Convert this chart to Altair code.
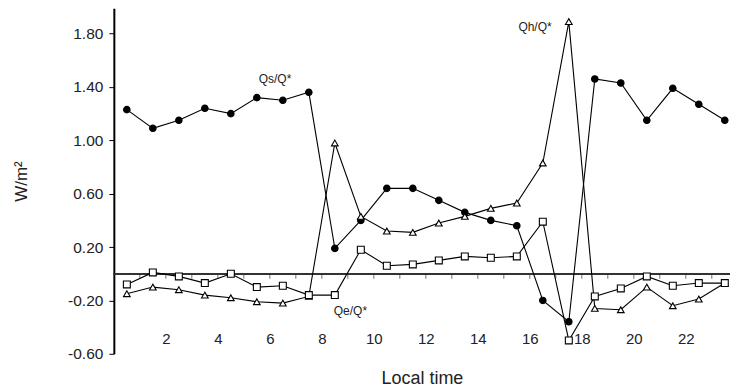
import altair as alt
import pandas as pd

# Local time (hour) of each observation
hours = [0.5, 1.5, 2.5, 3.5, 4.5, 5.5, 6.5, 7.5, 8.5, 9.5, 10.5, 11.5,
         12.5, 13.5, 14.5, 15.5, 16.5, 17.5, 18.5, 19.5, 20.5, 21.5, 22.5, 23.5]

# Qs/Q* (filled circles)
qs = [1.23, 1.09, 1.15, 1.24, 1.20, 1.32, 1.30, 1.36, 0.19, 0.40, 0.64, 0.64,
      0.55, 0.46, 0.40, 0.36, -0.20, -0.36, 1.46, 1.43, 1.15, 1.39, 1.27, 1.15]
# Qh/Q* (open triangles)
qh = [-0.15, -0.10, -0.12, -0.16, -0.18, -0.21, -0.22, -0.17, 0.98, 0.43, 0.32, 0.31,
      0.38, 0.43, 0.49, 0.53, 0.83, 1.89, -0.26, -0.27, -0.10, -0.24, -0.19, -0.07]
# Qe/Q* (open squares)
qe = [-0.08, 0.01, -0.02, -0.07, 0.00, -0.10, -0.09, -0.16, -0.16, 0.18, 0.06, 0.07,
      0.10, 0.13, 0.12, 0.13, 0.39, -0.50, -0.17, -0.11, -0.02, -0.09, -0.07, -0.07]

series_names = ["Qs", "Qh", "Qe"]
series_shapes = ["circle", "triangle-up", "square"]
series_fills = ["black", "white", "white"]
series_sizes = [42, 48, 44]

x_labels = [2, 4, 6, 8, 10, 12, 14, 16, 18, 20, 22]
y_ticks = [-0.6, -0.2, 0.2, 0.6, 1.0, 1.4, 1.8]
zero_ticks = [1, 2, 3, 4, 5, 6, 7, 8, 9, 10, 11, 12, 13, 14, 15, 16, 17, 18, 19, 20, 21, 22, 23]

ann_labels = ["Qs/Q*", "Qh/Q*", "Qe/Q*"]
ann_hours = [6.2, 16.2, 9.1]
ann_values = [1.46, 1.85, -0.28]

rows = []
for name, vals in zip(series_names, [qs, qh, qe]):
    for h, v in zip(hours, vals):
        rows.append({"series": name, "hour": h, "value": v})
df = pd.DataFrame(rows)
ticks_df = pd.DataFrame({"hour": zero_ticks, "value": [0] * len(zero_ticks)})
ann_df = pd.DataFrame({"label": ann_labels, "hour": ann_hours, "value": ann_values})

FONT = "Liberation Sans"

X = alt.X("hour:Q",
          scale=alt.Scale(domain=[0, 23.7], nice=False, zero=False),
          axis=alt.Axis(values=x_labels, title="Local time", domain=False, ticks=False,
                        grid=False, offset=-22, labelPadding=0, labelFontSize=15,
                        labelColor="#222222", titleColor="#222222",
                        titleFontSize=18, titleFontWeight="normal", titlePadding=23,
                        labelFont=FONT, titleFont=FONT))
Y = alt.Y("value:Q",
          scale=alt.Scale(domain=[-0.6, 1.99], nice=False, zero=False),
          axis=alt.Axis(values=y_ticks,
                        labelExpr="(datum.value < 0 ? '-' : '') + format(abs(datum.value), '.2f')",
                        title="W/m²", grid=False, domainColor="black", domainWidth=2,
                        tickColor="black", tickSize=5, labelPadding=6, labelFontSize=15.5,
                        labelColor="#222222", titleColor="#222222",
                        titleFontSize=17, titleFontWeight="normal", titlePadding=37,
                        labelFont=FONT, titleFont=FONT))

base = alt.Chart(df)

lines = base.mark_line(color="black", strokeWidth=1.1).encode(
    x=X, y=Y, detail="series:N", order="hour:Q")

points = base.mark_point(filled=False, stroke="black", strokeWidth=1.1, opacity=1).encode(
    x=X, y=Y,
    shape=alt.Shape("series:N", scale=alt.Scale(domain=series_names, range=series_shapes), legend=None),
    fill=alt.Fill("series:N", scale=alt.Scale(domain=series_names, range=series_fills), legend=None),
    size=alt.Size("series:N", scale=alt.Scale(domain=series_names, range=series_sizes), legend=None),
)

zero_line = alt.Chart(ticks_df).mark_rule(color="#333333", strokeWidth=1.5).encode(
    y=alt.Y(datum=0, scale=alt.Scale(domain=[-0.6, 1.99], nice=False, zero=False)))

zero_ticks_layer = alt.Chart(ticks_df).mark_tick(
    orient="vertical", size=5, thickness=1, color="#333333", yOffset=2.5).encode(x=X, y=Y)

ann = alt.Chart(ann_df).mark_text(font=FONT, fontSize=12, color="#222222").encode(
    x=X, y=Y, text="label:N")

chart = alt.layer(zero_line, zero_ticks_layer, lines, points, ann).properties(
    width=617, height=346,
    autosize=alt.AutoSizeParams(type="none"),
    padding={"left": 114, "top": 8, "right": 0, "bottom": 37},
    background="white",
).configure_view(stroke=None)

chart.save("out.html", embed_options={"renderer": "svg", "actions": False})
